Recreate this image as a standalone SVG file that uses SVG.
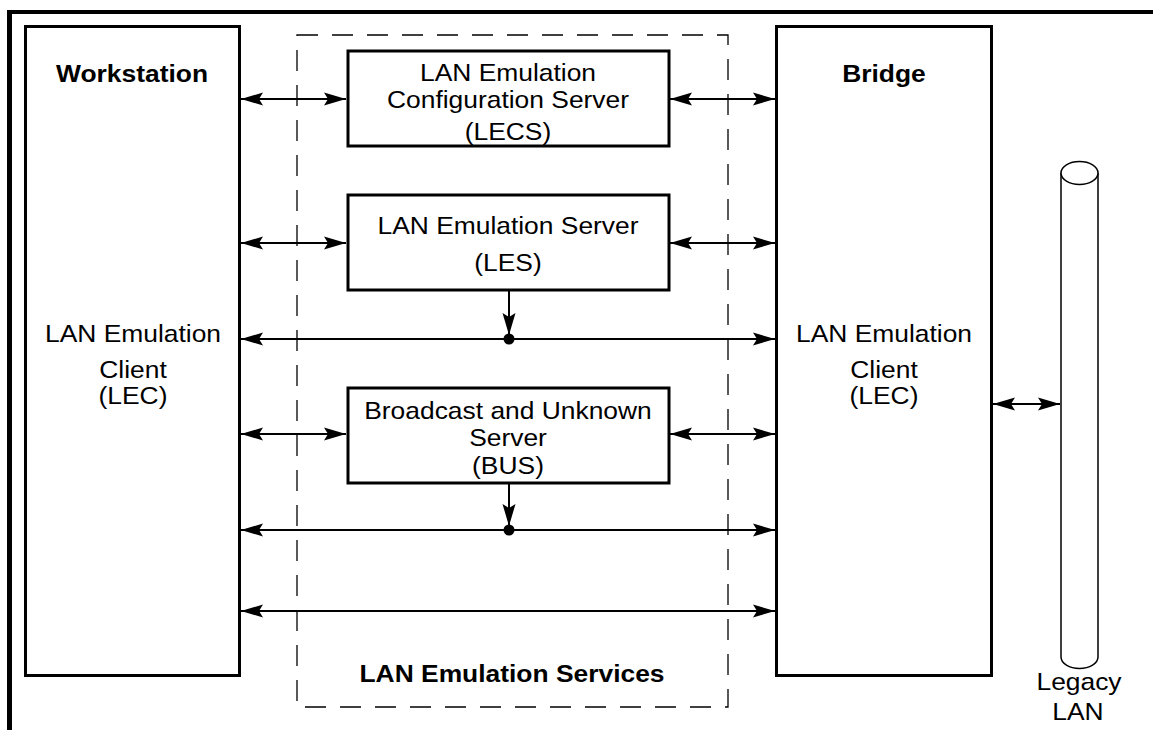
<svg xmlns="http://www.w3.org/2000/svg" width="1153" height="730" viewBox="0 0 1153 730">
<style>
.box{fill:#fff;stroke:#000;stroke-width:3}
.t{font-family:"Liberation Sans",Arial,sans-serif;font-size:24px;text-anchor:middle;fill:#000}
.b{font-weight:bold}
.c{stroke:#000;stroke-width:2;fill:none}
.dash{fill:none;stroke:#000;stroke-width:1.3;stroke-dasharray:21 14}
</style>
<defs>
<marker id="ah" markerUnits="userSpaceOnUse" markerWidth="23" markerHeight="14" refX="22" refY="7" orient="auto-start-reverse">
<path d="M0,0.5 L22,7 L0,13.5 L4,7 Z" fill="#000"/>
</marker>
</defs>
<rect width="1153" height="730" fill="#fff"/>
<g id="frame">
<line x1="7" y1="12" x2="1153" y2="12" stroke="#000" stroke-width="4"/>
<line x1="9.5" y1="10" x2="9.5" y2="730" stroke="#000" stroke-width="5"/>
</g>
<g id="services">
<rect class="dash" x="297" y="35" width="431" height="672"/>
<text class="t b" transform="translate(512 682) scale(1.1 1)">LAN Emulation Services</text>
</g>
<g id="workstation">
<rect class="box" x="25.5" y="26.5" width="214" height="649"/>
<text class="t b" transform="translate(132 82) scale(1.1 1)">Workstation</text>
<text class="t" transform="translate(133 342) scale(1.1 1)">LAN Emulation</text>
<text class="t" transform="translate(133 378) scale(1.1 1)">Client</text>
<text class="t" transform="translate(133 404) scale(1.1 1)">(LEC)</text>
</g>
<g id="bridge">
<rect class="box" x="776.5" y="26.5" width="215" height="649"/>
<text class="t b" transform="translate(884 82) scale(1.1 1)">Bridge</text>
<text class="t" transform="translate(884 342) scale(1.1 1)">LAN Emulation</text>
<text class="t" transform="translate(884 378) scale(1.1 1)">Client</text>
<text class="t" transform="translate(884 404) scale(1.1 1)">(LEC)</text>
</g>
<g id="lecs">
<rect class="box" x="348" y="51" width="321" height="95"/>
<text class="t" transform="translate(508 81) scale(1.1 1)">LAN Emulation</text>
<text class="t" transform="translate(508 108) scale(1.1 1)">Configuration Server</text>
<text class="t" transform="translate(508 140) scale(1.1 1)">(LECS)</text>
</g>
<g id="les">
<rect class="box" x="348" y="195" width="321" height="95"/>
<text class="t" transform="translate(508 234) scale(1.1 1)">LAN Emulation Server</text>
<text class="t" transform="translate(508 271) scale(1.1 1)">(LES)</text>
</g>
<g id="bus">
<rect class="box" x="348" y="388" width="321" height="95"/>
<text class="t" transform="translate(508 419) scale(1.1 1)">Broadcast and Unknown</text>
<text class="t" transform="translate(508 446) scale(1.1 1)">Server</text>
<text class="t" transform="translate(508 474) scale(1.1 1)">(BUS)</text>
</g>
<g id="legacy-lan">
<path d="M1061,173 V657 M1098,173 V657" stroke="#000" stroke-width="1.5" fill="none"/>
<ellipse cx="1079.5" cy="173" rx="18.5" ry="11.5" fill="#fff" stroke="#000" stroke-width="1.5"/>
<path d="M1061,657 A18.5,11.5 0 0 0 1098,657" fill="none" stroke="#000" stroke-width="1.5"/>
<text class="t" transform="translate(1079 690) scale(1.1 1)">Legacy</text>
<text class="t" transform="translate(1078 720) scale(1.1 1)">LAN</text>
</g>
<g id="connectors">
<line class="c" x1="241" y1="99" x2="346" y2="99" marker-start="url(#ah)" marker-end="url(#ah)"/>
<line class="c" x1="670" y1="99" x2="775" y2="99" marker-start="url(#ah)" marker-end="url(#ah)"/>
<line class="c" x1="241" y1="243" x2="346" y2="243" marker-start="url(#ah)" marker-end="url(#ah)"/>
<line class="c" x1="670" y1="243" x2="775" y2="243" marker-start="url(#ah)" marker-end="url(#ah)"/>
<line class="c" x1="241" y1="339" x2="775" y2="339" marker-start="url(#ah)" marker-end="url(#ah)"/>
<line class="c" x1="509" y1="291" x2="509" y2="335" marker-end="url(#ah)"/>
<circle cx="509" cy="339" r="5.5" fill="#000"/>
<line class="c" x1="241" y1="434" x2="346" y2="434" marker-start="url(#ah)" marker-end="url(#ah)"/>
<line class="c" x1="670" y1="434" x2="775" y2="434" marker-start="url(#ah)" marker-end="url(#ah)"/>
<line class="c" x1="241" y1="530" x2="775" y2="530" marker-start="url(#ah)" marker-end="url(#ah)"/>
<line class="c" x1="509" y1="484" x2="509" y2="526" marker-end="url(#ah)"/>
<circle cx="509" cy="530" r="5.5" fill="#000"/>
<line class="c" x1="241" y1="611" x2="775" y2="611" marker-start="url(#ah)" marker-end="url(#ah)"/>
<line class="c" x1="993" y1="404" x2="1060" y2="404" marker-start="url(#ah)" marker-end="url(#ah)"/>
</g>
</svg>
